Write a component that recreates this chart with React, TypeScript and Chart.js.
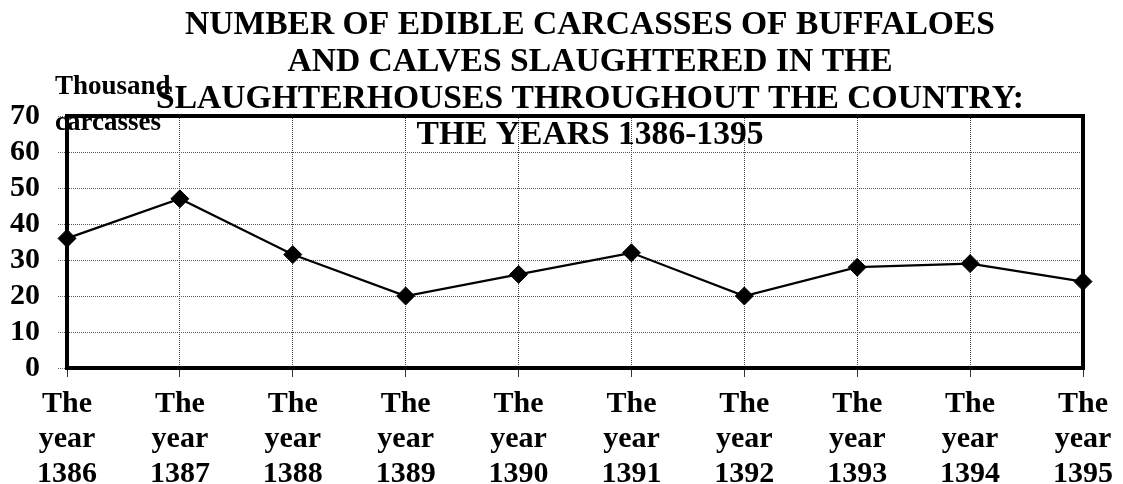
import { useEffect, useRef } from 'react';
import { Chart, registerables } from 'chart.js';

Chart.register(...registerables);

const years = ['1386', '1387', '1388', '1389', '1390', '1391', '1392', '1393', '1394', '1395'];
const categories = years.map((y) => ['The', 'year', y]);
const values = [36, 47, 31.5, 20, 26, 32, 20, 28, 29, 24];
const yMin = 0;
const yMax = 70;
const yStep = 10;
const titleLines = [
  'NUMBER OF EDIBLE CARCASSES OF BUFFALOES',
  'AND CALVES SLAUGHTERED IN THE',
  'SLAUGHTERHOUSES THROUGHOUT THE COUNTRY:',
  'THE YEARS 1386-1395',
];
const unitLines = ['Thousand', 'carcasses'];

const FONT = '"Liberation Serif", "Times New Roman", serif';

const overlayPlugin = {
  id: 'overlayText',
  beforeDatasetsDraw(chart: any) {
    const { ctx, chartArea } = chart;
    ctx.save();
    ctx.strokeStyle = '#000';
    ctx.lineWidth = 4;
    ctx.strokeRect(chartArea.left, chartArea.top, chartArea.right - chartArea.left, chartArea.bottom - chartArea.top);
    ctx.restore();
  },
  afterDraw(chart: any) {
    const { ctx, chartArea } = chart;
    ctx.save();
    ctx.fillStyle = '#000';
    ctx.textBaseline = 'alphabetic';
    ctx.textAlign = 'center';
    ctx.font = `bold 33.6px ${FONT}`;
    const cx = (chartArea.left + chartArea.right) / 2 + 15;
    titleLines.forEach((line, i) => {
      ctx.fillText(line, cx, chartArea.top - 82 + i * 36.8);
    });
    ctx.textAlign = 'left';
    ctx.font = `bold 27px ${FONT}`;
    unitLines.forEach((line, i) => {
      ctx.fillText(line, chartArea.left - 12, chartArea.top - 22 + i * 36);
    });
    ctx.restore();
  },
};

export default function App() {
  const ref = useRef<HTMLCanvasElement | null>(null);
  useEffect(() => {
    if (!ref.current) return;
    const chart = new Chart(ref.current, {
      type: 'line',
      data: {
        labels: categories,
        datasets: [
          {
            data: values,
            borderColor: '#000',
            borderWidth: 2.2,
            pointStyle: 'rectRot',
            pointRadius: 9,
            pointBackgroundColor: '#000',
            pointBorderColor: '#000',
            pointBorderWidth: 1,
            tension: 0,
            clip: false,
          } as any,
        ],
      },
      options: {
        animation: false,
        responsive: false,
        devicePixelRatio: 1,
        layout: { padding: { top: 116, right: 32, left: 0, bottom: 0 } },
        plugins: {
          legend: { display: false },
          tooltip: { enabled: false },
          title: { display: false },
        },
        scales: {
          x: {
            type: 'category',
            offset: false,
            afterFit: (scale: any) => {
              scale.height = 116;
            },
            grid: {
              color: '#444',
              lineWidth: 1,
              tickLength: 9,
              tickColor: '#333',
            },
            border: { display: false, dash: [1, 1] },
            ticks: {
              color: '#000',
              autoSkip: false,
              maxRotation: 0,
              padding: 10,
              font: { family: FONT, size: 30, weight: 'bold', lineHeight: 35 / 30 },
            },
          },
          y: {
            min: yMin,
            max: yMax,
            afterFit: (scale: any) => {
              scale.width = 67;
            },
            grid: {
              color: '#555',
              lineWidth: 1,
              tickLength: 9,
              tickColor: '#666',
              tickBorderDash: [1, 1],
            },
            border: { display: false, dash: [1, 1] },
            ticks: {
              stepSize: yStep,
              autoSkip: false,
              color: '#000',
              padding: 18,
              font: { family: FONT, size: 30, weight: 'bold', lineHeight: 1 },
            },
          },
        },
      } as any,
      plugins: [overlayPlugin],
    });
    return () => chart.destroy();
  }, []);
  return (
    <div style={{ position: 'absolute', left: 0, top: 0, width: 1123, height: 484, background: '#fff' }}>
      <canvas ref={ref} width={1123} height={484} style={{ display: 'block' }} />
    </div>
  );
}
